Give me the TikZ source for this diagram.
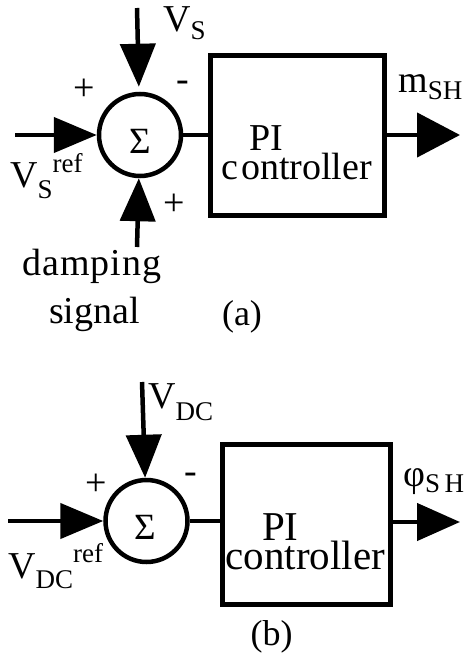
\documentclass[tikz,border=0pt]{standalone}
\usepackage{fontspec}
\setmainfont{Liberation Serif}
\usetikzlibrary{arrows.meta}
\newcommand\mainf{\fontsize{38}{40}\selectfont}
\newcommand\bigf{\fontsize{41}{42}\selectfont}
\newcommand\capf{\fontsize{36}{38}\selectfont}
\newcommand\subf{\fontsize{27}{28}\selectfont}
\newcommand\dn[2]{\raisebox{-#1pt}{\subf #2}}
\newcommand\up[2]{\raisebox{#1pt}{\subf #2}}
\newcommand\twolines[4]{\vbox{\baselineskip=#1\lineskiplimit=-60pt\lineskip=0pt\hbox{\kern#2 #3}\hbox{#4}}}
\begin{document}
\begin{tikzpicture}[x=1pt,y=-1pt,
  txt/.style={inner sep=0pt, font=\mainf},
  lbl/.style={txt, anchor=base west},
  ctr/.style={txt, anchor=base},
  sumc/.style={circle, draw, line width=4.5pt, minimum size=82pt, inner sep=0pt},
  pibox/.style={draw, line width=5.5pt, minimum height=160pt, inner sep=0pt},
  sig/.style={-{Triangle[length=43pt,width=35pt]}, line width=4.5pt},
  outsig/.style={-{Triangle[length=43pt,width=#1]}, line width=4.5pt},
  wire/.style={line width=4.5pt}]
\useasboundingbox (0,0) rectangle (467,655);

% ---------- (a) ----------
\node[sumc] (sa) at (140,135) {};
\node[txt, font=\fontsize{37}{37}\selectfont] (sga) at (140,141) {Σ};
\node[pibox, minimum width=174pt] (pia) at (297.5,135.5) {};
\coordinate (ta) at (137,8);
\coordinate (la) at (15,135);
\coordinate (ba) at (137,247);
\coordinate (oa) at (460,135);
\draw[sig, shorten >=5pt] (ta) -- (sa);
\draw[sig] (la) -- (sa);
\draw[sig] (ba) -- (sa);
\draw[wire] (sa) -- (sa -| pia.west);
\draw[outsig=44pt] (pia.east |- oa) -- (oa);

\node[lbl] (lvs) at (163,32) {V\dn{8}{S}};
\node[lbl] (lvsr) at (10,187) {V\dn{11}{S}\up{15}{ref}};
\node[lbl] (lms) at (398,93) {m\dn{7}{SH}};
\node[lbl] (lpia) at (221,179) {\twolines{29pt}{28.5pt}{PI}{c\kern3pt ontroller}};
\node[ctr] (ldamp) at (92,275) {d\kern1pt a\kern1pt m\kern1pt p\kern1pt i\kern1pt n\kern1pt g};
\node[ctr] (lsig) at (94.5,323) {signal};
\node[ctr, font=\capf] (capa) at (242,325) {(a)};
\node[txt] (pa1) at (84,90) {+};
\node[txt] (pa2) at (174,205) {+};
\node[ctr] (ma1) at (183,91.5) {-};

% ---------- (b) ----------
\node[sumc] (sb) at (146.5,521) {};
\node[txt, font=\fontsize{37}{37}\selectfont] (sgb) at (145,527) {Σ};
\node[pibox, minimum width=168pt] (pib) at (306.5,524.5) {};
\coordinate (tb) at (142,382);
\coordinate (lb) at (8,521);
\coordinate (ob) at (460,522);
\draw[sig] (tb) -- (sb);
\draw[sig] (lb) -- (sb);
\draw[wire] (sb) -- (sb -| pib.west);
\draw[outsig=37pt] (pib.east |- ob) -- (ob);

\node[lbl] (lvdc) at (148,408) {V\dn{12}{DC}};
\node[lbl] (lvdcr) at (8,578) {V\dn{10}{DC}\up{16}{ref}};
\node[lbl] (lphi) at (403,486) {φ\dn{6}{S\,H}};
\node[lbl, font=\bigf] (lpib) at (225.3,569) {\twolines{29pt}{36.5pt}{PI}{controller}};
\node[ctr, font=\capf] (capb) at (271.5,645) {(b)};
\node[txt] (pb1) at (96,485) {+};
\node[ctr] (mb1) at (191,483.5) {-};
\end{tikzpicture}
\end{document}
